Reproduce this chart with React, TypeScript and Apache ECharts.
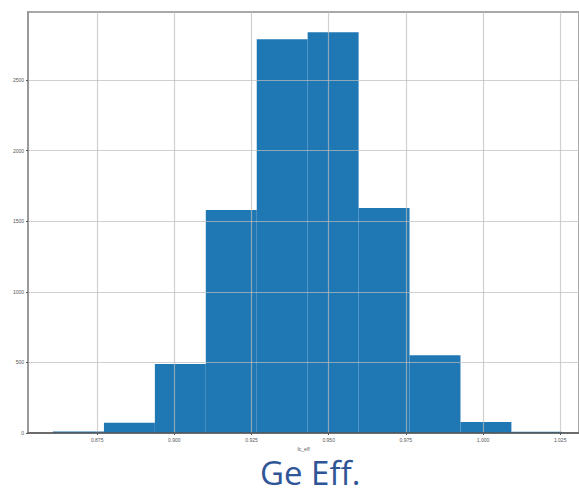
import React, { useEffect, useRef } from "react";
import * as echarts from "echarts";

const binEdges = [0.8607, 0.8772, 0.8937, 0.9102, 0.9267, 0.9432, 0.9597, 0.9762, 0.9927, 1.0092, 1.0256];
const counts = [10, 73, 489, 1579, 2788, 2838, 1593, 550, 78, 9];
const xTicks = [0.875, 0.9, 0.925, 0.95, 0.975, 1.0, 1.025];
const yTicks = [0, 500, 1000, 1500, 2000, 2500];
const xName = "fc_eff";
const caption = "Ge Eff.";

export default function App() {
  const ref = useRef<HTMLDivElement>(null);
  useEffect(() => {
    if (!ref.current) return;
    const chart = echarts.init(ref.current, null, { renderer: "svg" });
    const data = counts.map((c, i) => [binEdges[i], binEdges[i + 1], c]);
    chart.setOption({
      animation: false,
      grid: {
        left: 28,
        top: 12,
        right: -4,
        bottom: 55,
        show: true,
        borderColor: "#a8a8a8",
        borderWidth: 2,
      },
      xAxis: {
        type: "value",
        min: 0.8526,
        max: 1.0311,
        interval: 0.025,
        z: 5,
        name: xName,
        nameLocation: "middle",
        nameGap: 7,
        nameTextStyle: { fontSize: 5, color: "#555" },
        axisLine: { show: true, onZero: false, lineStyle: { color: "#555", width: 1.5 } },
        axisTick: { show: true, length: 2, lineStyle: { color: "#555" }, customValues: xTicks },
        axisLabel: {
          fontSize: 5,
          color: "#555",
          margin: 4,
          customValues: xTicks,
          formatter: (v: number) => v.toFixed(3),
        },
        splitLine: { show: true, lineStyle: { color: "rgba(190,190,190,0.7)", width: 1.2 } },
      },
      yAxis: {
        type: "value",
        min: 0,
        max: 2981,
        interval: 500,
        z: 5,
        axisLine: { show: true, lineStyle: { color: "#999", width: 2 } },
        axisTick: { show: true, length: 2, lineStyle: { color: "#555" }, customValues: yTicks },
        axisLabel: {
          fontSize: 5,
          color: "#555",
          margin: 4,
          customValues: yTicks,
          formatter: (v: number) => String(v),
        },
        splitLine: { show: true, lineStyle: { color: "rgba(190,190,190,0.7)", width: 1.2 } },
      },
      series: [
        {
          type: "custom",
          z: 2,
          data,
          encode: { x: [0, 1], y: 2 },
          renderItem: (params: any, api: any) => {
            const p0 = api.coord([api.value(0), api.value(2)]);
            const p1 = api.coord([api.value(1), 0]);
            return {
              type: "rect",
              shape: { x: p0[0], y: p0[1], width: p1[0] - p0[0], height: p1[1] - p0[1] },
              style: { fill: "#1f77b4" },
            };
          },
        },
      ],
      graphic: [
        {
          type: "text",
          left: 260,
          top: 456,
          style: {
            text: caption,
            fontSize: 33,
            lineHeight: 29,
            fontFamily: "Open Sans",
            fill: "#2f5597",
          },
        },
      ],
    });
    return () => chart.dispose();
  }, []);
  return (
    <div
      ref={ref}
      style={{ position: "fixed", left: 0, top: 0, width: 579, height: 488, background: "#fff" }}
    />
  );
}
